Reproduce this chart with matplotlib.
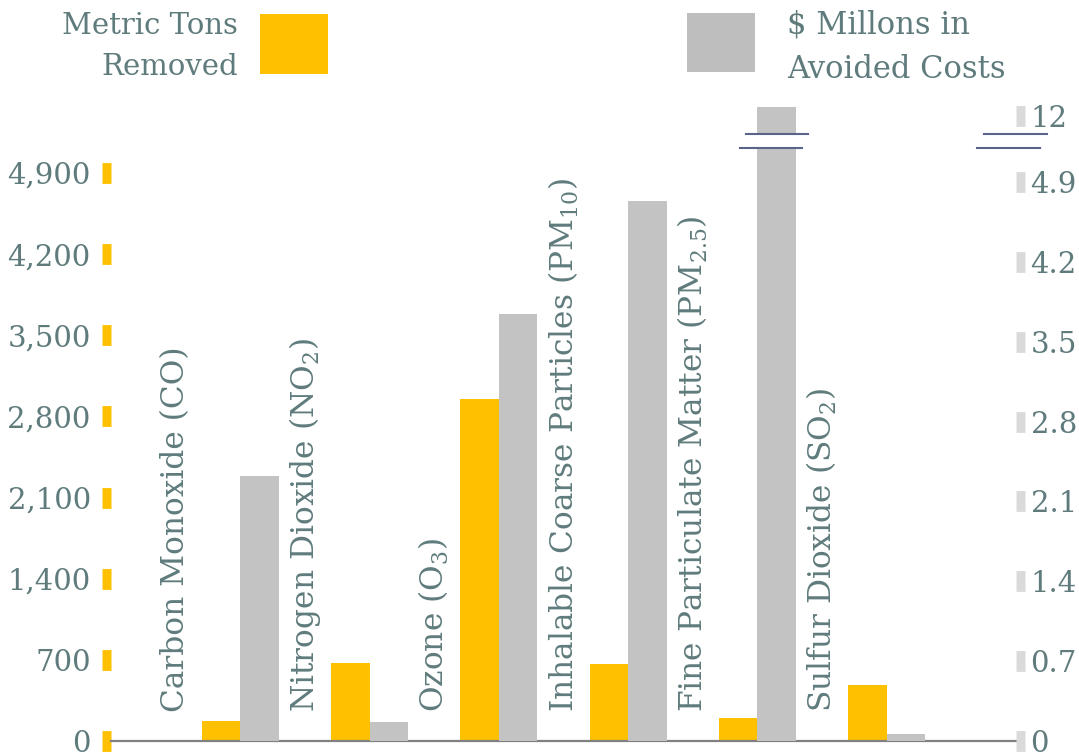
import numpy as np
import matplotlib
matplotlib.use("Agg")
import matplotlib.pyplot as plt
from matplotlib.patches import Rectangle, Polygon
from matplotlib.lines import Line2D
import matplotlib.transforms as mtransforms

# ---------------- data ----------------
categories = [r"Carbon Monoxide (CO)", r"Nitrogen Dioxide (NO$_2$)", r"Ozone (O$_3$)",
              r"Inhalable Coarse Particles (PM$_{10}$)", r"Fine Particulate Matter (PM$_{2.5}$)",
              r"Sulfur Dioxide (SO$_2$)"]
tons_removed = [173, 675, 2950, 664, 198, 483]
avoided_costs = [2.32, 0.167, 3.74, 4.73, 13.4, 0.061]
left_ticks = [0, 700, 1400, 2100, 2800, 3500, 4200, 4900]
left_ticklabels = ["0", "700", "1,400", "2,100", "2,800", "3,500", "4,200", "4,900"]
right_ticks = [0, 0.7, 1.4, 2.1, 2.8, 3.5, 4.2, 4.9, 12]
right_ticklabels = ["0", "0.7", "1.4", "2.1", "2.8", "3.5", "4.2", "4.9", "12"]
legend_tons = "Metric Tons\nRemoved"
legend_cost = "$ Millons in\nAvoided Costs"

# ---------------- style ----------------
YELLOW = "#FFC000"
GREY = "#C3C3C3"
TXT = "#5F7B7C"
TICK_GREY = "#DADADA"
BREAK = "#5B6488"
plt.rcParams["font.family"] = ["DejaVu Serif"]
plt.rcParams["mathtext.fontset"] = "dejavuserif"

W, H = 1079, 755
fig = plt.figure(figsize=(W / 100, H / 100), dpi=100)
ax = fig.add_axes([111 / W, (H - 741) / H, (1016 - 111) / W, (741 - 98) / H])
ax2 = ax.twinx()

# broken right scale
b, k = 5.1, 0.0549
def fwd(v):
    v = np.asarray(v, dtype=float)
    return np.where(v <= b, v, b + (v - b) * k)
def inv(f):
    f = np.asarray(f, dtype=float)
    return np.where(f <= b, f, b + (f - b) / k)
ax2.set_yscale("function", functions=(fwd, inv))

x = np.arange(len(categories))
bw = 0.298
ax.bar(x - bw / 2, tons_removed, width=bw, color=YELLOW, zorder=2)
ax2.bar(x + bw / 2, avoided_costs, width=bw, color=GREY, zorder=2)

ax.set_xlim(-1.0, 6.0)
ax.set_ylim(0, 5547)
ax2.set_ylim(0, float(inv(5.636)))

for a in (ax, ax2):
    for s in a.spines.values():
        s.set_visible(False)
    a.set_xticks([])
ax.spines["bottom"].set_visible(True)
ax.spines["bottom"].set_color("#808080")
ax.spines["bottom"].set_linewidth(1.6)

ax.set_yticks(left_ticks)
ax.set_yticklabels(left_ticklabels)
ax.tick_params(axis="y", length=6.5, width=15, color=YELLOW, labelcolor=TXT,
               labelsize=21, pad=8)
ax2.set_yticks(right_ticks)
ax2.set_yticklabels(right_ticklabels)
ax2.yaxis.set_minor_locator(matplotlib.ticker.NullLocator())
ax2.tick_params(axis="y", which="major", length=6.5, width=15, color=TICK_GREY, labelcolor=TXT,
                labelsize=21, pad=4)

# category labels
for xi, lab in zip(x, categories):
    ax.text(xi - 0.5, 250, lab, rotation=90, ha="center", va="bottom",
            fontsize=22.5, color=TXT, zorder=3)

# break marks
def break_mark(axis, trans, x0, x1, skew):
    y_hi, y_lo = 0.944, 0.922
    poly = Polygon([(x0 + skew, y_hi), (x1 + skew, y_hi), (x1, y_lo), (x0, y_lo)],
                   closed=True, facecolor="white", edgecolor="none",
                   transform=trans, zorder=5, clip_on=False)
    axis.add_patch(poly)
    axis.add_line(Line2D([x0 + skew, x1 + skew], [y_hi, y_hi], color=BREAK, lw=1.5,
                         transform=trans, zorder=6, clip_on=False))
    axis.add_line(Line2D([x0, x1], [y_lo, y_lo], color=BREAK, lw=1.5,
                         transform=trans, zorder=6, clip_on=False))

t_bar = mtransforms.blended_transform_factory(ax2.transData, ax2.transAxes)
cx = x[4] + bw / 2
break_mark(ax2, t_bar, cx - 0.283, cx + 0.198, 0.047)
break_mark(ax2, ax2.transAxes, (977 - 111) / 905, (1040 - 111) / 905, 7 / 905)

# legend
fig.patches.append(Rectangle((260 / W, 1 - 74 / H), 68 / W, 60 / H, transform=fig.transFigure,
                             facecolor=YELLOW, edgecolor="none"))
fig.patches.append(Rectangle((687 / W, 1 - 72 / H), 68 / W, 59 / H, transform=fig.transFigure,
                             facecolor="#BEBEBE", edgecolor="none"))
fig.text(238 / W, 1 - 12 / H, legend_tons, ha="right", va="top", fontsize=21, color=TXT,
         linespacing=1.6, multialignment="right")
fig.text(787 / W, 1 - 10 / H, legend_cost.replace("$", r"\$"), ha="left", va="top", fontsize=22,
         color=TXT, linespacing=1.55)

fig.savefig("out.png", dpi=100)
